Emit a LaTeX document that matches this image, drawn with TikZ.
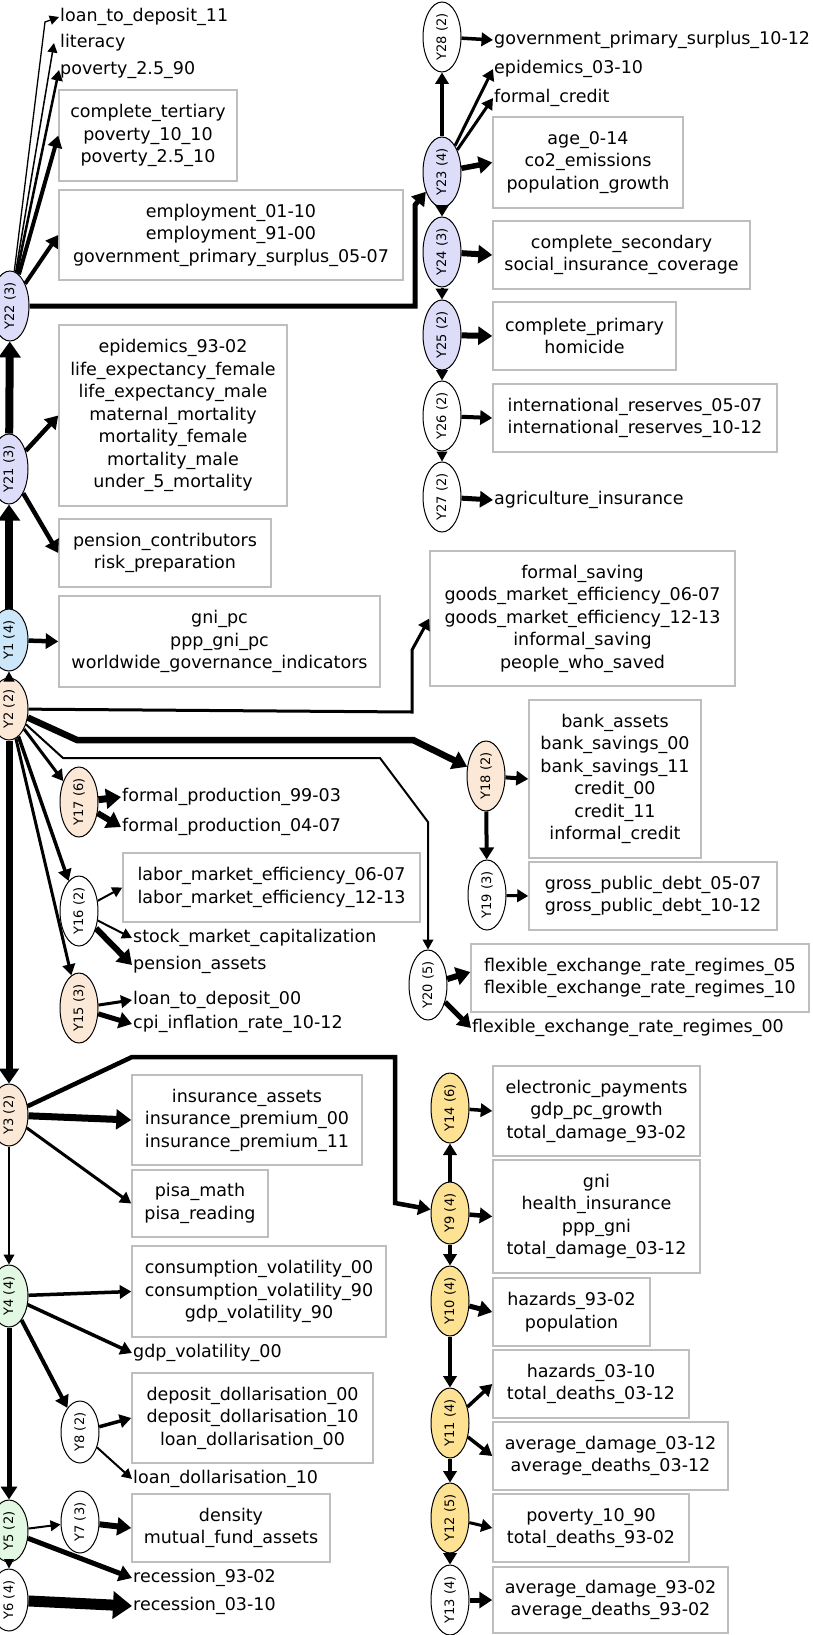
\documentclass[tikz,border=0pt]{standalone}
\usepackage{graphicx}
\usepackage{fontspec}
\setmainfont{DejaVu Sans}
\usetikzlibrary{arrows.meta,shapes.geometric,calc}
\definecolor{lav}{RGB}{221,221,250}
\definecolor{lblue}{RGB}{204,230,250}
\definecolor{peach}{RGB}{252,232,214}
\definecolor{lgreen}{RGB}{226,248,226}
\definecolor{gold}{RGB}{252,226,146}
\definecolor{boxgray}{RGB}{190,190,190}
\tikzset{
 lat/.style={ellipse, draw=black, line width=1pt, inner sep=0pt, minimum width=38pt, minimum height=62pt, font=\fontsize{13}{15}\selectfont},
 latl/.style={lat, minimum height=70pt},
 vbox/.style={draw=boxgray, line width=1.5pt, fill=white, align=center, inner sep=0pt, font=\fontsize{17.5}{22.5}\selectfont},
 vtxt/.style={anchor=west, inner sep=1pt, text height=13pt, text depth=4pt, font=\fontsize{17.5}{22.5}\selectfont},
 ed/.style={draw=black, -{Triangle[length=8pt 1, width=7pt 1.8]}, line width=#1},
}
\newcommand{\lab}[1]{\rotatebox{90}{#1}}
\begin{document}
\begin{tikzpicture}[x=1pt,y=-1pt]
\useasboundingbox (0,0) rectangle (812,1635);
% ---------- latent nodes ----------
\node[latl, fill=lav] (Y22) at (10,306) {\lab{Y22 (3)}};
\node[latl, fill=lav] (Y21) at (9,469) {\lab{Y21 (3)}};
\node[lat, fill=lblue] (Y1) at (9,640) {\lab{Y1 (4)}};
\node[lat, fill=peach] (Y2) at (9,709) {\lab{Y2 (2)}};
\node[lat, fill=peach] (Y3) at (9,1115) {\lab{Y3 (2)}};
\node[lat, fill=lgreen] (Y4) at (9,1296) {\lab{Y4 (4)}};
\node[lat, fill=lgreen] (Y5) at (9,1531) {\lab{Y5 (2)}};
\node[lat, fill=white] (Y6) at (9,1600) {\lab{Y6 (4)}};
\node[lat, fill=white] (Y7) at (80,1522) {\lab{Y7 (3)}};
\node[lat, fill=white] (Y8) at (80,1432) {\lab{Y8 (2)}};
\node[lat, fill=gold] (Y9) at (450,1213) {\lab{Y9 (4)}};
\node[latl, fill=gold] (Y10) at (450,1301) {\lab{Y10 (4)}};
\node[latl, fill=gold] (Y11) at (450,1423) {\lab{Y11 (4)}};
\node[latl, fill=gold] (Y12) at (450,1518) {\lab{Y12 (5)}};
\node[latl, fill=white] (Y13) at (450,1600) {\lab{Y13 (4)}};
\node[latl, fill=gold] (Y14) at (450,1108) {\lab{Y14 (6)}};
\node[latl, fill=peach] (Y15) at (79,1008) {\lab{Y15 (3)}};
\node[latl, fill=white] (Y16) at (79,911) {\lab{Y16 (2)}};
\node[latl, fill=peach] (Y17) at (79,802) {\lab{Y17 (6)}};
\node[latl, fill=peach] (Y18) at (486,776) {\lab{Y18 (2)}};
\node[latl, fill=white] (Y19) at (487,895) {\lab{Y19 (3)}};
\node[latl, fill=white] (Y20) at (428,985) {\lab{Y20 (5)}};
\node[latl, fill=lav] (Y23) at (442,172) {\lab{Y23 (4)}};
\node[latl, fill=lav] (Y24) at (442,252) {\lab{Y24 (3)}};
\node[latl, fill=lav] (Y25) at (442,335) {\lab{Y25 (2)}};
\node[latl, fill=white] (Y26) at (442,416) {\lab{Y26 (2)}};
\node[latl, fill=white] (Y27) at (442,497) {\lab{Y27 (2)}};
\node[latl, fill=white] (Y28) at (442,37) {\lab{Y28 (2)}};
% ---------- boxes ----------
\node[vbox, minimum width=178pt, minimum height=91pt] (B1) at (148,135.5) {complete\_tertiary\\poverty\_10\_10\\poverty\_2.5\_10};
\node[vbox, minimum width=344pt, minimum height=90pt] (B2) at (231,235) {employment\_01-10\\employment\_91-00\\government\_primary\_surplus\_05-07};
\node[vbox, minimum width=228pt, minimum height=181pt] (B3) at (173,415.5) {epidemics\_93-02\\life\_expectancy\_female\\life\_expectancy\_male\\maternal\_mortality\\mortality\_female\\mortality\_male\\under\_5\_mortality};
\node[vbox, minimum width=212pt, minimum height=68pt] (B4) at (165,553) {pension\_contributors\\risk\_preparation};
\node[vbox, minimum width=321pt, minimum height=91pt] (B5) at (219.5,641.5) {gni\_pc\\ppp\_gni\_pc\\worldwide\_governance\_indicators};
\node[vbox, minimum width=190pt, minimum height=91pt] (B6) at (588,162.5) {age\_0-14\\co2\_emissions\\population\_growth};
\node[vbox, minimum width=257pt, minimum height=68pt] (B7) at (621.5,255) {complete\_secondary\\social\_insurance\_coverage};
\node[vbox, minimum width=183pt, minimum height=68pt] (B8) at (584.5,336) {complete\_primary\\homicide};
\node[vbox, minimum width=284pt, minimum height=68pt] (B9) at (635,418) {international\_reserves\_05-07\\international\_reserves\_10-12};
\node[vbox, minimum width=305pt, minimum height=135pt] (B10) at (582.5,618.5) {formal\_saving\\goods\_market\_efficiency\_06-07\\goods\_market\_efficiency\_12-13\\informal\_saving\\people\_who\_saved};
\node[vbox, minimum width=172pt, minimum height=158pt] (B11) at (615,779) {bank\_assets\\bank\_savings\_00\\bank\_savings\_11\\credit\_00\\credit\_11\\informal\_credit};
\node[vbox, minimum width=248pt, minimum height=68pt] (B12) at (653,896) {gross\_public\_debt\_05-07\\gross\_public\_debt\_10-12};
\node[vbox, minimum width=297pt, minimum height=69pt] (B13) at (271.5,887.5) {labor\_market\_efficiency\_06-07\\labor\_market\_efficiency\_12-13};
\node[vbox, minimum width=338pt, minimum height=68pt] (B14) at (640,978) {flexible\_exchange\_rate\_regimes\_05\\flexible\_exchange\_rate\_regimes\_10};
\node[vbox, minimum width=230pt, minimum height=90pt] (B15) at (247,1120) {insurance\_assets\\insurance\_premium\_00\\insurance\_premium\_11};
\node[vbox, minimum width=136pt, minimum height=67pt] (B16) at (200,1203.5) {pisa\_math\\pisa\_reading};
\node[vbox, minimum width=254pt, minimum height=91pt] (B17) at (259,1291.5) {consumption\_volatility\_00\\consumption\_volatility\_90\\gdp\_volatility\_90};
\node[vbox, minimum width=241pt, minimum height=90pt] (B18) at (252.5,1418) {deposit\_dollarisation\_00\\deposit\_dollarisation\_10\\loan\_dollarisation\_00};
\node[vbox, minimum width=198pt, minimum height=68pt] (B19) at (231,1528) {density\\mutual\_fund\_assets};
\node[vbox, minimum width=207pt, minimum height=90pt] (B20) at (596.5,1111) {electronic\_payments\\gdp\_pc\_growth\\total\_damage\_93-02};
\node[vbox, minimum width=207pt, minimum height=113pt] (B21) at (596.5,1216.5) {gni\\health\_insurance\\ppp\_gni\\total\_damage\_03-12};
\node[vbox, minimum width=157pt, minimum height=68pt] (B22) at (571.5,1312) {hazards\_93-02\\population};
\node[vbox, minimum width=196pt, minimum height=68pt] (B23) at (591,1384) {hazards\_03-10\\total\_deaths\_03-12};
\node[vbox, minimum width=235pt, minimum height=68pt] (B24) at (610.5,1456) {average\_damage\_03-12\\average\_deaths\_03-12};
\node[vbox, minimum width=196pt, minimum height=68pt] (B25) at (591,1528) {poverty\_10\_90\\total\_deaths\_93-02};
\node[vbox, minimum width=235pt, minimum height=66pt] (B26) at (610.5,1600) {average\_damage\_93-02\\average\_deaths\_93-02};
% ---------- loose labels ----------
\node[vtxt] (ltd11) at (59,17) {loan\_to\_deposit\_11};
\node[vtxt] (lit) at (59,43) {literacy};
\node[vtxt] (pov) at (59,70) {poverty\_2.5\_90};
\node[vtxt] (gps) at (493,40) {government\_primary\_surplus\_10-12};
\node[vtxt] (epi) at (493,69) {epidemics\_03-10};
\node[vtxt] (fc) at (493,98) {formal\_credit};
\node[vtxt] (agri) at (493,500) {agriculture\_insurance};
\node[vtxt] (fp1) at (121,797) {formal\_production\_99-03};
\node[vtxt] (fp2) at (121,827) {formal\_production\_04-07};
\node[vtxt] (smc) at (132,938) {stock\_market\_capitalization};
\node[vtxt] (pa) at (132,965) {pension\_assets};
\node[vtxt] (ltd00) at (132,1000) {loan\_to\_deposit\_00};
\node[vtxt] (cpi) at (132,1024) {cpi\_inflation\_rate\_10-12};
\node[vtxt] (fx00) at (471,1028) {flexible\_exchange\_rate\_regimes\_00};
\node[vtxt] (gdpv) at (132,1353) {gdp\_volatility\_00};
\node[vtxt] (ld10) at (132,1479) {loan\_dollarisation\_10};
\node[vtxt] (rec1) at (132,1578) {recession\_93-02};
\node[vtxt] (rec2) at (132,1606) {recession\_03-10};
% ---------- waypoints ----------
\coordinate (w0) at (45,22);
\coordinate (w1) at (415,306);
\coordinate (w2) at (415,205);
\coordinate (w3) at (412,712);
\coordinate (w4) at (412,650);
\coordinate (w5) at (77,740);
\coordinate (w6) at (413,740);
\coordinate (w7) at (63,758);
\coordinate (w8) at (380,758);
\coordinate (w9) at (428,822);
\coordinate (w10) at (132,1057);
\coordinate (w11) at (395,1057);
\coordinate (w12) at (395,1203);
% ---------- edges ----------
% Y22
\draw[ed=1.3pt] (Y22) -- (w0) -- (ltd11.west);
\draw[ed=1.5pt] (Y22) -- ([xshift=-5pt]lit.west);
\draw[ed=2.5pt] (Y22) -- (pov.west);
\draw[ed=4pt] (Y22) -- (B1.west);
\draw[ed=4pt] (Y22) -- (B2.west);
\draw[ed=5pt] (Y22) -- (w1) -- (w2) -- (Y23);
% Y21, Y1, Y2 trunk
\draw[ed=8pt] (Y21) -- (Y22);
\draw[ed=4.5pt] (Y21) -- (B3.west);
\draw[ed=4.5pt] (Y21) -- (B4.west);
\draw[ed=8pt] (Y1) -- (Y21);
\draw[ed=4.5pt] (Y1) -- (B5.west);
\draw[ed=2pt] (Y2) -- (Y1);
\draw[ed=3pt] (Y2) -- (w3) -- (w4) -- (B10.west);
\draw[ed=6.5pt] (Y2) -- (w5) -- (w6) -- (Y18);
\draw[ed=2pt] (Y2) -- (w7) -- (w8) -- (w9) -- (Y20);
\draw[ed=3pt] (Y2) -- (Y17);
\draw[ed=3.5pt] (Y2) -- (Y16);
\draw[ed=3pt] (Y2) -- (Y15);
\draw[ed=7pt] (Y2) -- (Y3);
% Y17, Y16, Y15
\draw[ed=7pt] (Y17) -- (fp1.west);
\draw[ed=6pt] (Y17) -- (fp2.west);
\draw[ed=2pt] (Y16) -- (B13.west);
\draw[ed=2pt] (Y16) -- (smc.west);
\draw[ed=6pt] (Y16) -- (pa.west);
\draw[ed=3pt] (Y15) -- (ltd00.west);
\draw[ed=5pt] (Y15) -- (cpi.west);
% Y18, Y19, Y20
\draw[ed=4pt] (Y18) -- (B11.west);
\draw[ed=4pt] (Y18) -- (Y19);
\draw[ed=3pt] (Y19) -- (B12.west);
\draw[ed=6pt] (Y20) -- ([yshift=6pt]B14.west);
\draw[ed=5pt] (Y20) -- (fx00.west);
% Y3
\draw[ed=4.5pt] (Y3) -- (w10) -- (w11) -- (w12) -- (Y9);
\draw[ed=7pt] (Y3) -- (B15.west);
\draw[ed=3pt] (Y3) -- (B16.west);
\draw[ed=2pt] (Y3) -- (Y4);
% Y4
\draw[ed=3.5pt] (Y4) -- (B17.west);
\draw[ed=3.5pt] (Y4) -- (gdpv.west);
\draw[ed=4pt] (Y4) -- (Y8);
\draw[ed=5pt] (Y4) -- (Y5);
\draw[ed=3.5pt] (Y8) -- (B18.west);
\draw[ed=2pt] (Y8) -- (ld10.west);
% Y5, Y6, Y7
\draw[ed=2pt] (Y5) -- (Y7);
\draw[ed=5pt] (Y5) -- (rec1.west);
\draw[ed=1.5pt] (Y5) -- (Y6);
\draw[ed=6pt] (Y7) -- (B19.west);
\draw[ed=11pt] (Y6) -- (rec2.west);
% Y9 column
\draw[ed=3.5pt] (Y9) -- (Y14);
\draw[ed=3.5pt] (Y14) -- (B20.west);
\draw[ed=4.5pt] (Y9) -- (B21.west);
\draw[ed=3.5pt] (Y9) -- (Y10);
\draw[ed=5pt] (Y10) -- (B22.west);
\draw[ed=3.5pt] (Y10) -- (Y11);
\draw[ed=3.5pt] (Y11) -- (B23.west);
\draw[ed=3.5pt] (Y11) -- (B24.west);
\draw[ed=3.5pt] (Y11) -- (Y12);
\draw[ed=3pt] (Y12) -- (B25.west);
\draw[ed=3.5pt] (Y12) -- (Y13);
\draw[ed=5pt] (Y13) -- (B26.west);
% Y23 column
\draw[ed=3.5pt] (Y23) -- (Y28);
\draw[ed=3.5pt] (Y28) -- (gps.west);
\draw[ed=3pt] (Y23) -- (epi.west);
\draw[ed=3pt] (Y23) -- (fc.west);
\draw[ed=5.5pt] (Y23) -- (B6.west);
\draw[ed=3.5pt] (Y23) -- (Y24);
\draw[ed=6pt] (Y24) -- (B7.west);
\draw[ed=3pt] (Y24) -- (Y25);
\draw[ed=6pt] (Y25) -- (B8.west);
\draw[ed=2.5pt] (Y25) -- (Y26);
\draw[ed=4pt] (Y26) -- (B9.west);
\draw[ed=2pt] (Y26) -- (Y27);
\draw[ed=5pt] (Y27) -- (agri.west);
\end{tikzpicture}
\end{document}
